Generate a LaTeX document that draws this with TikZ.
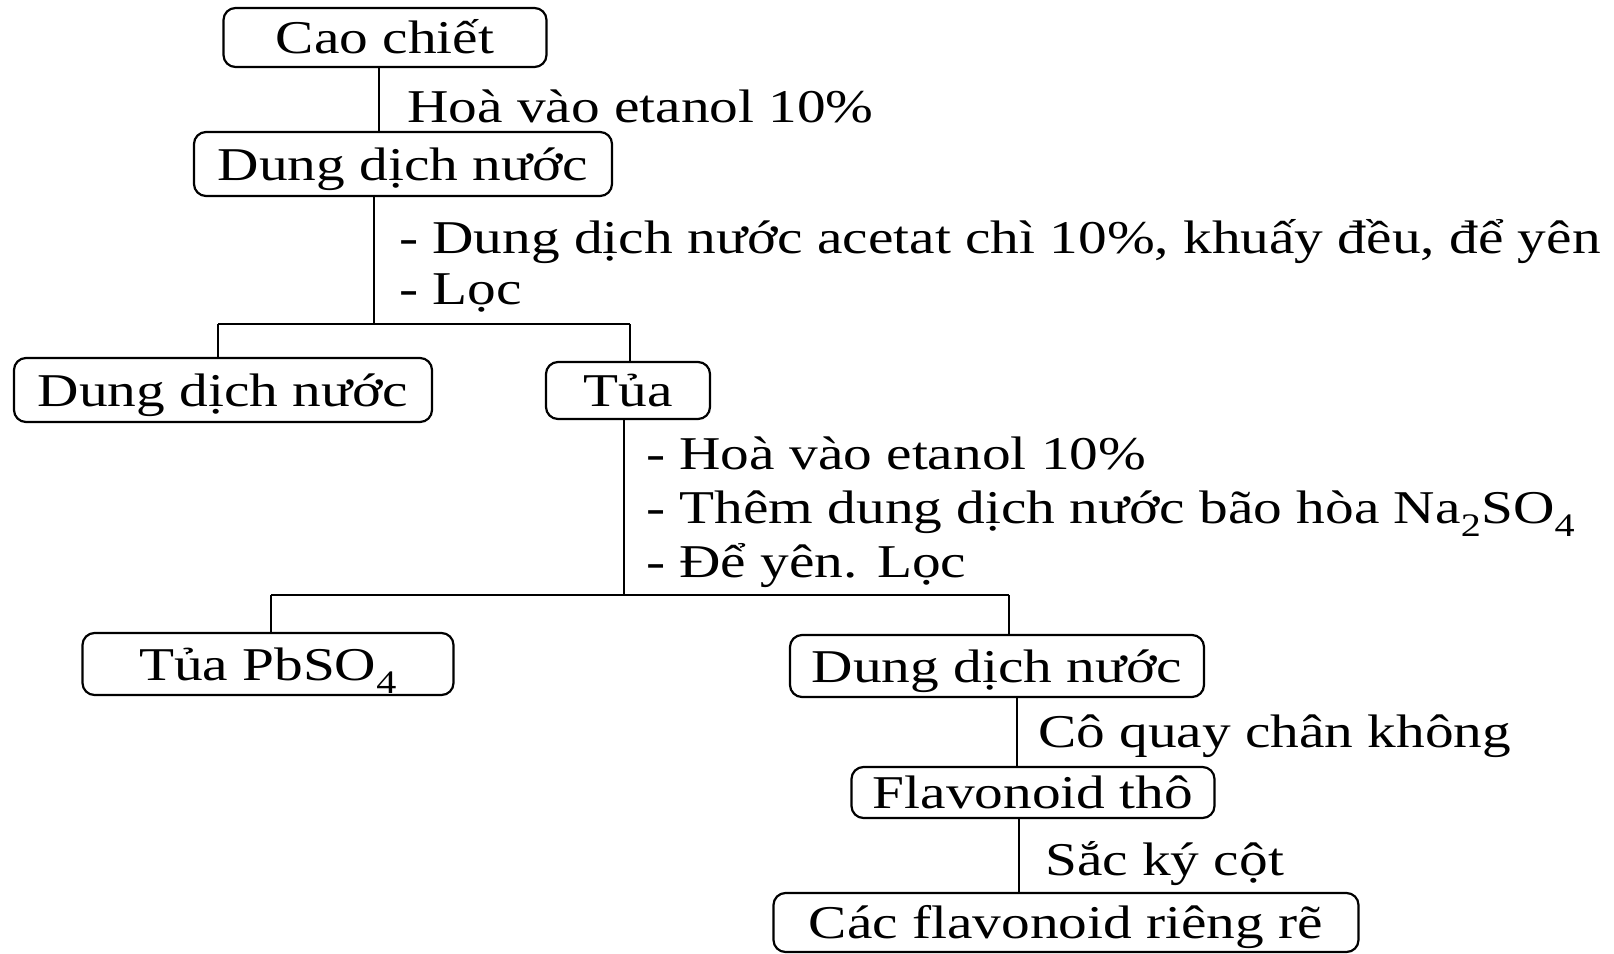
\documentclass[tikz,border=0pt]{standalone}
\usepackage{fontspec}
\setmainfont{Liberation Serif}[FakeStretch=1.22]
\begin{document}
\begin{tikzpicture}[x=1pt,y=-1pt,
  txt/.style={font=\fontsize{47}{56}\selectfont},
  box/.style={txt, draw, line width=2.2pt, rounded corners=12pt, inner sep=0pt,
    text height=34pt, text depth=2pt},
  note/.style={txt, anchor=west, inner sep=0pt, text height=34pt, text depth=2pt},
  link/.style={line width=2pt}]
\useasboundingbox[fill=white] (0,0) rectangle (1614,953);

% process boxes
\node[box, minimum width=323, minimum height=59] (cao) at (385,37.5) {Cao chiết};
\node[box, minimum width=418, minimum height=64] (dd1) at (403,164) {Dung dịch nước};
\node[box, minimum width=418, minimum height=64] (dd2) at (223,390) {Dung dịch nước};
\node[box, minimum width=164, minimum height=57] (tua) at (628,390.5) {Tủa};
\node[box, minimum width=371, minimum height=62] (pbso) at (268,664) {Tủa PbSO\textsubscript{4}};
\node[box, minimum width=414, minimum height=62] (dd3) at (997,666) {Dung dịch nước};
\node[box, minimum width=363, minimum height=51] (flav) at (1033,792.5) {Flavonoid thô};
\node[box, minimum width=585, minimum height=59] (cac) at (1066,922.5) {Các flavonoid riêng rẽ};

% step notes
\node[note] (n1) at (407,106) {Hoà vào etanol 10\%};
\node[note] (n2) at (399,237) {- Dung dịch nước acetat chì 10\%, khuấy đều, để yên};
\node[note] (n3) at (399,288) {- Lọc};
\node[note] (n4) at (646,453) {- Hoà vào etanol 10\%};
\node[note] (n5) at (646,507) {- Thêm dung dịch nước bão hòa Na\textsubscript{2}SO\textsubscript{4}};
\node[note] (n6) at (646,561) {- Để yên. Lọc};
\node[note] (n7) at (1038,731) {Cô quay chân không};
\node[note] (n8) at (1045,859) {Sắc ký cột};

% junction points
\coordinate (a1) at (379,0);
\coordinate (j1) at (374,324);
\coordinate (j1l) at (218,324);
\coordinate (j1r) at (630,324);
\coordinate (j2) at (624,595);
\coordinate (j2l) at (271,595);
\coordinate (j2r) at (1009,595);
\coordinate (a3) at (1017,0);
\coordinate (a4) at (1019,0);

% connectors
\draw[link] (a1 |- cao.south) -- (a1 |- dd1.north);
\draw[link] (j1 |- dd1.south) -- (j1);
\draw[link] (j1l) -- (j1r);
\draw[link] (j1l) -- (j1l |- dd2.north);
\draw[link] (j1r) -- (j1r |- tua.north);
\draw[link] (j2 |- tua.south) -- (j2);
\draw[link] (j2l) -- (j2r);
\draw[link] (j2l) -- (j2l |- pbso.north);
\draw[link] (j2r) -- (j2r |- dd3.north);
\draw[link] (a3 |- dd3.south) -- (a3 |- flav.north);
\draw[link] (a4 |- flav.south) -- (a4 |- cac.north);
\end{tikzpicture}
\end{document}
